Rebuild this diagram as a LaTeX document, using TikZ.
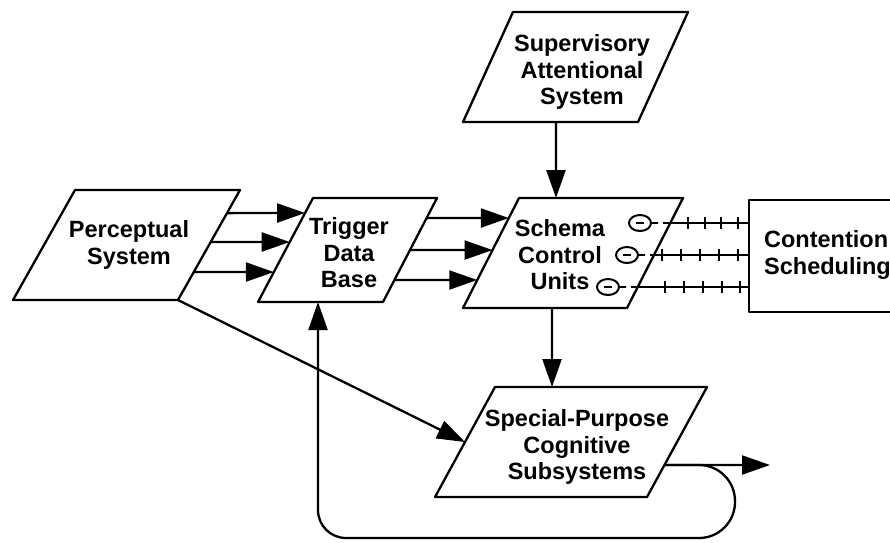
\documentclass[tikz,border=0pt]{standalone}
\usepackage{fontspec}
\setmainfont{Liberation Sans}
\usetikzlibrary{arrows.meta,calc,shapes.geometric}
\begin{document}
\begin{tikzpicture}[x=1pt,y=-1pt, line width=2.3pt, line join=round,
  lbl/.style={font=\bfseries\fontsize{23.5}{26.5}\selectfont, align=center, inner sep=0pt},
  arr/.style={-{Triangle[length=28pt,width=19pt]}},
  circ/.style={draw, ellipse, minimum width=22pt, minimum height=16pt, inner sep=0pt, line width=2pt},
  tick/.style={line width=1.6pt}]
\useasboundingbox (0,0) rectangle (890,542);

% corners
\coordinate (P-bl) at (13,300);  \coordinate (P-br) at (178,300);
\coordinate (P-tr) at (240,190); \coordinate (P-tl) at (75,190);
\coordinate (T-bl) at (258,302); \coordinate (T-br) at (383,302);
\coordinate (T-tr) at (437,198); \coordinate (T-tl) at (313,198);
\coordinate (K-bl) at (463,308); \coordinate (K-br) at (627,308);
\coordinate (K-tr) at (683,198); \coordinate (K-tl) at (519,198);
\coordinate (A-bl) at (463,122); \coordinate (A-br) at (638,122);
\coordinate (A-tr) at (688,12);  \coordinate (A-tl) at (513,12);
\coordinate (S-bl) at (435,497); \coordinate (S-br) at (647,497);
\coordinate (S-tr) at (707,387); \coordinate (S-tl) at (495,387);
\coordinate (C-tl) at (749,200); \coordinate (C-bl) at (749,312);
\coordinate (out) at (770,465);

% shapes
\foreach \n in {P,T,K,A,S}
  \draw (\n-bl) -- (\n-br) -- (\n-tr) -- (\n-tl) -- cycle;
\draw (891,200) -- (C-tl) -- (C-bl) -- (891,312);

% labels
\node[lbl] (P) at (129,245) {Perceptual\\System};
\node[lbl] (T) at (349,253) {Trigger\\Data\\Base};
\node[lbl] (K) at (560,255) {Schema\\Control\\Units};
\node[lbl] (A) at (582,72) {Supervisory\\Attentional\\System};
\node[lbl] (S) at (577,447) {Special-Purpose\\Cognitive\\Subsystems};
\node[lbl, anchor=west, align=left] (C) at (763,255) {Contention\\Scheduling};

% Perceptual -> Trigger
\draw[arr] ($(P-br)!0.79!(P-tr)$) -- ($(T-bl)!0.856!(T-tl)$);
\draw[arr] ($(P-br)!0.527!(P-tr)$) -- ($(T-bl)!0.577!(T-tl)$);
\draw[arr] ($(P-br)!0.255!(P-tr)$) -- ($(T-bl)!0.288!(T-tl)$);

% Trigger -> Schema
\draw[arr] ($(T-br)!0.808!(T-tr)$) -- ($(K-bl)!0.818!(K-tl)$);
\draw[arr] ($(T-br)!0.5!(T-tr)$) -- ($(K-bl)!0.527!(K-tl)$);
\draw[arr] ($(T-br)!0.2115!(T-tr)$) -- ($(K-bl)!0.2545!(K-tl)$);

% SAS -> Schema
\draw[arr] ($(A-bl)!0.531!(A-br)$) -- ($(K-tl)!0.2256!(K-tr)$);
% Schema -> Special
\draw[arr] ($(K-bl)!0.5427!(K-br)$) -- ($(S-tl)!0.2689!(S-tr)$);
% Perceptual -> Special
\draw[arr] (P-br) -- ($(S-bl)!0.5!(S-tl)$);

% Special output and loop
\coordinate (sout) at ($(S-br)!0.291!(S-tr)$);
\draw[arr] (sout) -- (out);
\draw[arr, rounded corners=36pt] (sout) -- (735,465) -- (735,538)
  [rounded corners=28pt] -- (318,538) -- ($(T-bl)!0.48!(T-br)$);

% schema control units inhibitory links
\node[circ] (e1) at (640,223) {};
\node[circ] (e2) at (627,255) {};
\node[circ] (e3) at (608,287) {};
\foreach \e in {e1,e2,e3}
  \draw[line width=1.6pt] ($(\e.center)+(-4,0)$) -- ($(\e.center)+(4,0)$);
\coordinate (k1) at ($(K-br)!0.7727!(K-tr)$);
\coordinate (k2) at ($(K-br)!0.4818!(K-tr)$);
\coordinate (k3) at ($(K-br)!0.1909!(K-tr)$);
\draw[dash pattern=on 6pt off 5pt, line width=1.6pt] (e1.east) -- (k1);
\draw[dash pattern=on 6pt off 5pt, line width=1.6pt] (e2.east) -- (k2);
\draw[dash pattern=on 6pt off 5pt, line width=1.6pt] (e3.east) -- (k3);
\draw (k1) -- (k1 -| C-tl);
\draw (k2) -- (k2 -| C-tl);
\draw (k3) -- (k3 -| C-tl);
\foreach \x in {688,705,721,738} \draw[tick] (\x,217) -- (\x,229);
\foreach \x in {662,681,700,719,738} \draw[tick] (\x,249) -- (\x,261);
\foreach \x in {665,684,703,722,740} \draw[tick] (\x,281) -- (\x,293);
\end{tikzpicture}
\end{document}
